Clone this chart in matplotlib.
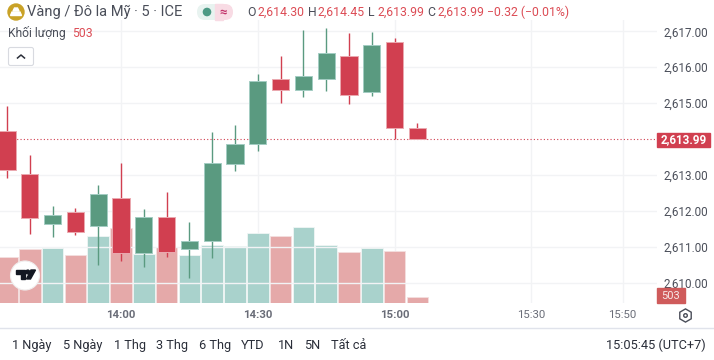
import numpy as np
import matplotlib
matplotlib.use("Agg")
import matplotlib.pyplot as plt
from matplotlib.patches import Rectangle, FancyBboxPatch, Circle, RegularPolygon, Polygon

plt.rcParams['font.family'] = ['Roboto', 'DejaVu Sans']

# minutes after 14:00
minutes = [-25, -20, -15, -10, -5, 0, 5, 10, 15, 20, 25, 30, 35, 40, 45, 50, 55, 60, 65]
opens = [2614.22, 2613.03, 2611.65, 2611.96, 2611.57, 2612.37, 2610.82, 2611.84, 2610.94, 2611.16,
         2613.30, 2613.86, 2615.67, 2615.37, 2615.67, 2616.32, 2615.30, 2616.70, 2614.30]
closes = [2613.13, 2611.80, 2611.88, 2611.42, 2612.47, 2610.82, 2611.82, 2610.85, 2611.16, 2613.34,
          2613.86, 2615.63, 2615.36, 2615.76, 2616.40, 2615.23, 2616.63, 2614.30, 2613.99]
highs = [2614.92, 2613.56, 2612.14, 2612.09, 2612.72, 2613.33, 2612.05, 2612.52, 2611.69, 2614.20,
         2614.39, 2615.80, 2616.30, 2617.04, 2617.08, 2616.95, 2616.97, 2616.81, 2614.45]
lows = [2612.93, 2611.35, 2611.27, 2611.32, 2610.50, 2610.62, 2610.44, 2610.72, 2610.14, 2610.69,
        2613.12, 2613.68, 2615.00, 2615.17, 2615.35, 2614.98, 2615.21, 2613.99, 2613.99]
volumes = [3680, 4320, 4400, 3840, 5400, 6000, 3960, 4480, 3840, 4680,
           4600, 5600, 5400, 6120, 4680, 4120, 4420, 4180, 503]

price_ticks = [2610, 2611, 2612, 2613, 2615, 2616, 2617]
time_ticks = [0, 30, 60, 90, 110]
time_labels = ['14:00', '14:30', '15:00', '15:30', '15:50']
range_labels = ['1 Ngày', '5 Ngày', '1 Thg', '3 Thg', '6 Thg', 'YTD', '1N', '5N', 'Tất cả']
range_x = [12, 63, 114, 156, 199, 241, 278, 304, 331]

GREEN = '#5a9a80'
GREEN_EDGE = '#a3cdc3'
RED = '#d13f50'
RED_EDGE = '#eba9b0'
VOL_GREEN = '#a9d2cc'
VOL_RED = '#e5a9a9'
GRID = '#f2f3f5'
TEXT = '#4a4e59'
RED_TEXT = '#dc4c55'

W, H = 714, 360
pane_right, pane_top, pane_bottom = 657, 20, 303

fig = plt.figure(figsize=(7.14, 3.6), dpi=100)
pos = [0, 1 - pane_bottom / H, pane_right / W, (pane_bottom - pane_top) / H]

# volume underneath, candles on top
vol = fig.add_axes(pos)
ax = fig.add_axes(pos, sharex=vol)
ax.patch.set_alpha(0)

px_per_min = (394.6 - 121) / 60
vol.set_xlim(-121 / px_per_min, (pane_right - 121) / px_per_min)
vol.set_ylim(0, (pane_bottom - pane_top) * 80)
px_per_price = 35.93
ax.set_ylim(2617 - (pane_bottom - 31.3) / px_per_price, 2617 + (31.3 - pane_top) / px_per_price)

vol.axis('off')
for x in time_ticks:
    vol.axvline(x, color=GRID, lw=1, zorder=0)

for t, o, c, v in zip(minutes, opens, closes, volumes):
    vol.bar(t, v, width=4.7, color=VOL_GREEN if c >= o else VOL_RED,
            edgecolor='#f0f6f5' if c >= o else '#f4e0e0', linewidth=0.6, zorder=2)

for s in ax.spines.values():
    s.set_visible(False)
ax.yaxis.tick_right()
ax.set_yticks(price_ticks)
ax.set_yticklabels([f'{p:,.2f}' for p in price_ticks], fontsize=8.4, color=TEXT)
ax.tick_params(axis='y', length=0, pad=4.5)
ax.set_xticks(time_ticks)
ax.set_xticklabels(time_labels, fontsize=8.2, color='#6a6d78')
ax.tick_params(axis='x', length=0, pad=5)
for lab in ax.get_xticklabels()[:3]:
    lab.set_fontweight('bold')
ax.grid(axis='y', color=GRID, lw=1, zorder=0)
ax.axhline(closes[-1], color=RED, lw=0.8, ls=(0, (1, 2)), zorder=1)

for t, o, c, hi, lo in zip(minutes, opens, closes, highs, lows):
    up = c >= o
    ax.vlines(t, lo, hi, color=GREEN if up else RED, lw=1, zorder=3)
    ax.add_patch(Rectangle((t - 1.9, min(o, c)), 3.8, abs(c - o), facecolor=GREEN if up else RED,
                           edgecolor=GREEN_EDGE if up else RED_EDGE, linewidth=0.7, zorder=4))

# everything that is screen furniture, in pixel coordinates
ui = fig.add_axes([0, 0, 1, 1])
ui.set_xlim(0, W)
ui.set_ylim(H, 0)
ui.axis('off')
ui.patch.set_alpha(0)

# header
ui.add_patch(Circle((16, 12), 8, color='#c9a227'))
ui.add_patch(Polygon([(10.5, 15.5), (12, 12), (20, 12), (21.5, 15.5)], color='white'))
ui.add_patch(Polygon([(13, 11), (14.5, 8), (17.5, 8), (19, 11)], color='white'))
ui.text(27, 12, 'Vàng / Đô la Mỹ · 5 · ICE', fontsize=10.5, color=TEXT, va='center')
ui.add_patch(FancyBboxPatch((197, 4), 26, 16, boxstyle='round,pad=0,rounding_size=8',
                            facecolor='#e8f3f0', edgecolor='none'))
ui.add_patch(FancyBboxPatch((215, 4), 18, 16, boxstyle='round,pad=0,rounding_size=8',
                            facecolor='#f8dbe4', edgecolor='none'))
ui.add_patch(Rectangle((215, 4), 8, 16, color='#f8dbe4'))
ui.add_patch(Circle((207, 12), 3.6, color='#4d9a85'))
ui.text(223, 12, '≈', fontsize=9.5, color='#c2336b', ha='center', va='center', fontweight='bold')

ohlc_x = [247, 308, 368, 427]
ohlc_names = ['O', 'H', 'L', 'C']
ohlc_vals = [opens[-1], highs[-1], lows[-1], closes[-1]]
for x, n, val in zip(ohlc_x, ohlc_names, ohlc_vals):
    ui.text(x, 12.5, n, fontsize=8.8, color=TEXT, va='center')
    ui.text(x + 10, 12.5, f'{val:,.2f}', fontsize=8.8, color=RED_TEXT, va='center')
ui.text(487, 12.5, f'−{opens[-1] - closes[-1] + 0.01:.2f} (−0.01%)', fontsize=8.8, color=RED_TEXT, va='center')

ui.text(8, 33.5, 'Khối lượng', fontsize=8.7, color=TEXT, va='center')
ui.text(72, 33.5, str(volumes[-1]), fontsize=8.8, color=RED_TEXT, va='center')
ui.add_patch(FancyBboxPatch((8.5, 47.5), 25, 18, boxstyle='round,pad=0,rounding_size=2',
                            facecolor='white', edgecolor='#d8dae0', linewidth=0.8))
ui.plot([17.5, 21, 24.5], [58, 55, 58], color='#2a2e39', lw=1.1)

# TradingView badge
ui.add_patch(Circle((25, 275.5), 14.5, facecolor='white', edgecolor='#f0eeee', linewidth=0.8, zorder=5))
ui.add_patch(Polygon([(16, 270), (25, 270), (25, 279), (20.5, 279), (20.5, 274), (16, 274)],
                     color='#131722', zorder=6))
ui.add_patch(Circle((27.8, 272), 1.9, color='#131722', zorder=6))
ui.add_patch(Polygon([(31, 270), (35.5, 270), (30.5, 279), (26.5, 279)], color='#131722', zorder=6))

# price tags
ui.add_patch(Rectangle((657, 132.7), 53, 14, color=RED))
ui.text(683.5, 139.9, f'{closes[-1]:,.2f}', fontsize=8.4, color='white', ha='center', va='center', fontweight='bold')
ui.add_patch(Rectangle((657, 288), 28, 15, color='#cf5b5b'))
ui.text(671, 296, str(volumes[-1]), fontsize=8, color='#f8e8e8', ha='center', va='center')

# bottom bar
ui.plot([0, W], [328.3, 328.3], color='#e0e3eb', lw=1)
for x, lab in zip(range_x, range_labels):
    ui.text(x, 345.5, lab, fontsize=9.2, color='#2a2e39', va='center')
ui.text(706, 345.5, '15:05:45 (UTC+7)', fontsize=9.2, color='#2a2e39', va='center', ha='right')
ui.add_patch(RegularPolygon((685.5, 315.5), 6, radius=6.6, facecolor='none', edgecolor='#4a4e59', linewidth=1))
ui.add_patch(Circle((685.5, 315.5), 1.8, facecolor='none', edgecolor='#4a4e59', linewidth=1))

fig.savefig('out.png', dpi=100)
